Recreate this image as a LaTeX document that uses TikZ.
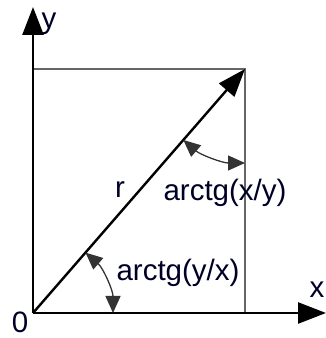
\documentclass[tikz,border=0pt]{standalone}
\usepackage{fontspec}
\setmainfont{Liberation Sans}
\usepackage{tikz}
\tikzset{>=latex}
\usetikzlibrary{
    arrows.meta, % estilos modernos de setas
    calc % cálculos de coordenadas
}

\begin{document}
\begin{tikzpicture}[
    x=1pt, y=1pt,
    font=\fontsize{29.5}{32}\selectfont,
    axis/.style={
        -{Triangle[length=28pt,width=21pt]},
        line width=2.6pt,
        draw=black
    },
    frame/.style={
        line width=2pt,
        draw=black!60
    },
    vector/.style={
        -{Triangle[length=28pt,width=20pt]},
        line width=2.4pt,
        draw=black
    },
    angle/.style={
        {Triangle[length=17pt,width=15pt]}-{Triangle[length=17pt,width=15pt]},
        line width=1.3pt,
        draw=black!80
    },
    label/.style={
        inner sep=0pt,
        text=black!85!blue
    }
]
\useasboundingbox (0,0) rectangle (326,338);

% Pontos principais
\coordinate (O) at (33,25);
\coordinate (C) at (245,269);
\coordinate (Xend) at (326,25);
\coordinate (Yend) at (33,331);
\coordinate (Xc) at (245,25);
\coordinate (Yc) at (33,269);

% Retângulo
\draw[frame] (Yc) -- (C) -- (Xc);

% Eixos
\draw[axis] (O) -- (Xend);
\draw[axis] (O) -- (Yend);

% Vetor r
\draw[vector] (O) -- (C);

% Ângulos
\draw[angle] ([shift={(0:80)}]O) arc (0:49:80);
\draw[angle] ([shift={(270:94)}]C) arc (270:229:94);

% Rótulos
\node[label] (ylab) at (49,314) {y};
\node[label] (xlab) at (317,48) {x};
\node[label] (zero) at (20,16) {0};
\node[label] (rlab) at (120,148) {r};
\node[label] (xy) at (225,145) {arctg(x/y)};
\node[label] (yx) at (178,65) {arctg(y/x)};

\end{tikzpicture}
\end{document}
